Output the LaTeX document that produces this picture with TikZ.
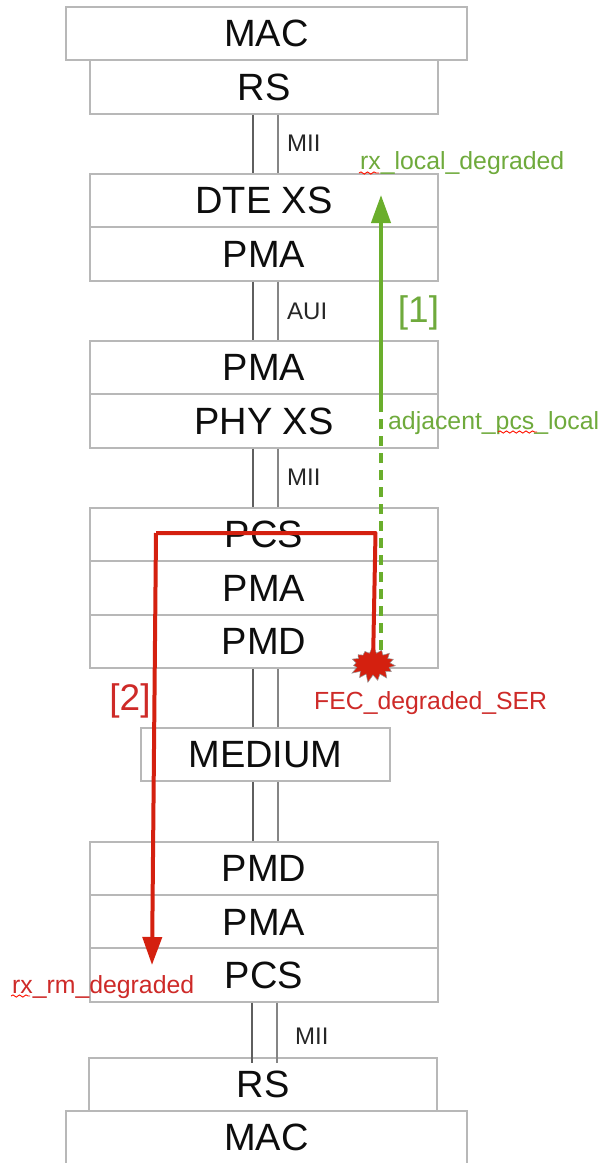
\documentclass[tikz,border=0pt]{standalone}
\usepackage{fontspec}
\setmainfont{Liberation Sans}
\usetikzlibrary{shapes.symbols,decorations.pathmorphing,arrows.meta}
\definecolor{boxgrey}{HTML}{B8B8B8}
\definecolor{busa}{HTML}{5F5F5F}
\definecolor{busb}{HTML}{858585}
\definecolor{redc}{HTML}{D4200F}
\definecolor{redt}{HTML}{CE2A28}
\definecolor{greenc}{HTML}{6AAE2C}
\definecolor{greent}{HTML}{6FAA3C}
\tikzset{
  blk/.style={draw=boxgrey,line width=1.6pt,fill=white,inner sep=0pt,text=black!95,minimum height=53.5pt,
     font=\fontsize{38}{42}\selectfont},
  wide/.style={blk,minimum width=401pt},
  mid/.style={blk,minimum width=348pt},
  med/.style={blk,minimum width=249pt},
  busl/.style={draw=busa,line width=1.8pt},
  busr/.style={draw=busb,line width=1.8pt},
  small/.style={inner sep=0pt,text=black!85,font=\fontsize{24}{27}\selectfont},
  redlab/.style={inner sep=0pt,text=redt,font=\fontsize{24.8}{28}\selectfont},
  greenlab/.style={inner sep=0pt,text=greent,font=\fontsize{24.8}{28}\selectfont},
  redlink/.style={draw=redc,line width=4pt},
  greenlink/.style={draw=greenc,line width=4pt},
  squig/.style={draw=red!85!orange,line width=0.9pt,decorate,decoration={snake,amplitude=1.1pt,segment length=6.5pt}},
}
\begin{document}
\begin{tikzpicture}[x=1pt,y=-1pt]
\clip (0,0) rectangle (602,1163);
\fill[white] (0,0) rectangle (602,1163);
\coordinate (la) at (253,0);
\coordinate (lb) at (278,0);
\node[mid] (rsa) at (264,87) {RS};
\node[mid] (dte) at (264,200.5) {DTE XS};
\node[mid] (pmaa) at (264,254) {PMA};
\node[mid] (pmab) at (264,367.5) {PMA};
\node[mid] (phy) at (264,421) {PHY XS};
\node[mid] (pcsa) at (264,534.5) {PCS};
\node[mid] (pmac) at (264,588) {PMA};
\node[mid] (pmda) at (264,641.5) {PMD};
\node[med] (medium) at (265.5,754.5) {MEDIUM};
\node[mid] (pmdb) at (264,868.5) {PMD};
\node[mid] (pmad) at (264,922) {PMA};
\node[mid] (pcsb) at (264,975) {PCS};
\node[mid] (rsb) at (263,1084.5) {RS};
\node[wide] (maca) at (266.5,33.5) {MAC};
\node[wide] (macb) at (266.5,1137.5) {MAC};
\foreach \p/\q in {rsa/dte,pmaa/pmab,phy/pcsa,pmda/medium,medium/pmdb}{
  \draw[busl] (\p.south -| la) -- (\q.north -| la);
  \draw[busr] (\p.south -| lb) -- (\q.north -| lb);
}
\coordinate (rsbl) at (252,1063);
\coordinate (rsbr) at (277,1063);
\draw[busl] (pcsb.south -| rsbl) -- (rsbl);
\draw[busr] (pcsb.south -| rsbr) -- (rsbr);
% interface labels
\node[small,anchor=west] (mia) at (287,143) {MII};
\node[small,anchor=west] (aui) at (287,311) {AUI};
\node[small,anchor=west] (mib) at (287,477) {MII};
\node[small,anchor=west] (mic) at (295,1036) {MII};
% green path
\coordinate (g0) at (381,650);
\coordinate (g1) at (381,407);
\coordinate (g2) at (381,195);
\draw[greenlink,dash pattern=on 10pt off 7pt] (g0) -- (g1);
\draw[greenlink,-{Triangle[length=28pt,width=19pt]}] (g1) -- (g2);
% red path
\coordinate (r1) at (375.5,533);
\coordinate (r2) at (156,533);
\coordinate (r3) at (152,965);
\node[starburst,starburst points=15,starburst point height=8pt,random starburst=7,minimum width=50pt,minimum height=38pt,inner sep=0pt,fill=redc,draw=black!40,line width=0.5pt] (burst) at (373,664) {};
\draw[redlink,line join=round] (burst.center) -- (r1) -- (r2);
\draw[redlink,-{Triangle[length=28pt,width=19pt]}] (r2) -- (r3);
% labels
\node[greenlab,anchor=base west] (rxl) at (360,169) {rx\_local\_degraded};
\node[greenlab,anchor=base west] (adj) at (388,429) {adjacent\_pcs\_local};
\node[anchor=center,inner sep=0pt,text=greent,font=\fontsize{37}{40}\selectfont] (one) at (418.5,313) {[1]};
\node[anchor=center,inner sep=0pt,text=redt,font=\fontsize{37}{40}\selectfont] (two) at (130,701) {[2]};
\node[redlab,anchor=base west] (fec) at (314,709) {FEC\_degraded\_SER};
\node[redlab,anchor=base west] (rxr) at (12,993) {rx\_rm\_degraded};
\coordinate (s1) at (359,173);\coordinate (s2) at (379,173);
\coordinate (s3) at (498,432);\coordinate (s4) at (537,432);
\coordinate (s5) at (11,996);\coordinate (s6) at (30,996);
\draw[squig] (s1) -- (s2);
\draw[squig] (s3) -- (s4);
\draw[squig] (s5) -- (s6);
\end{tikzpicture}
\end{document}
